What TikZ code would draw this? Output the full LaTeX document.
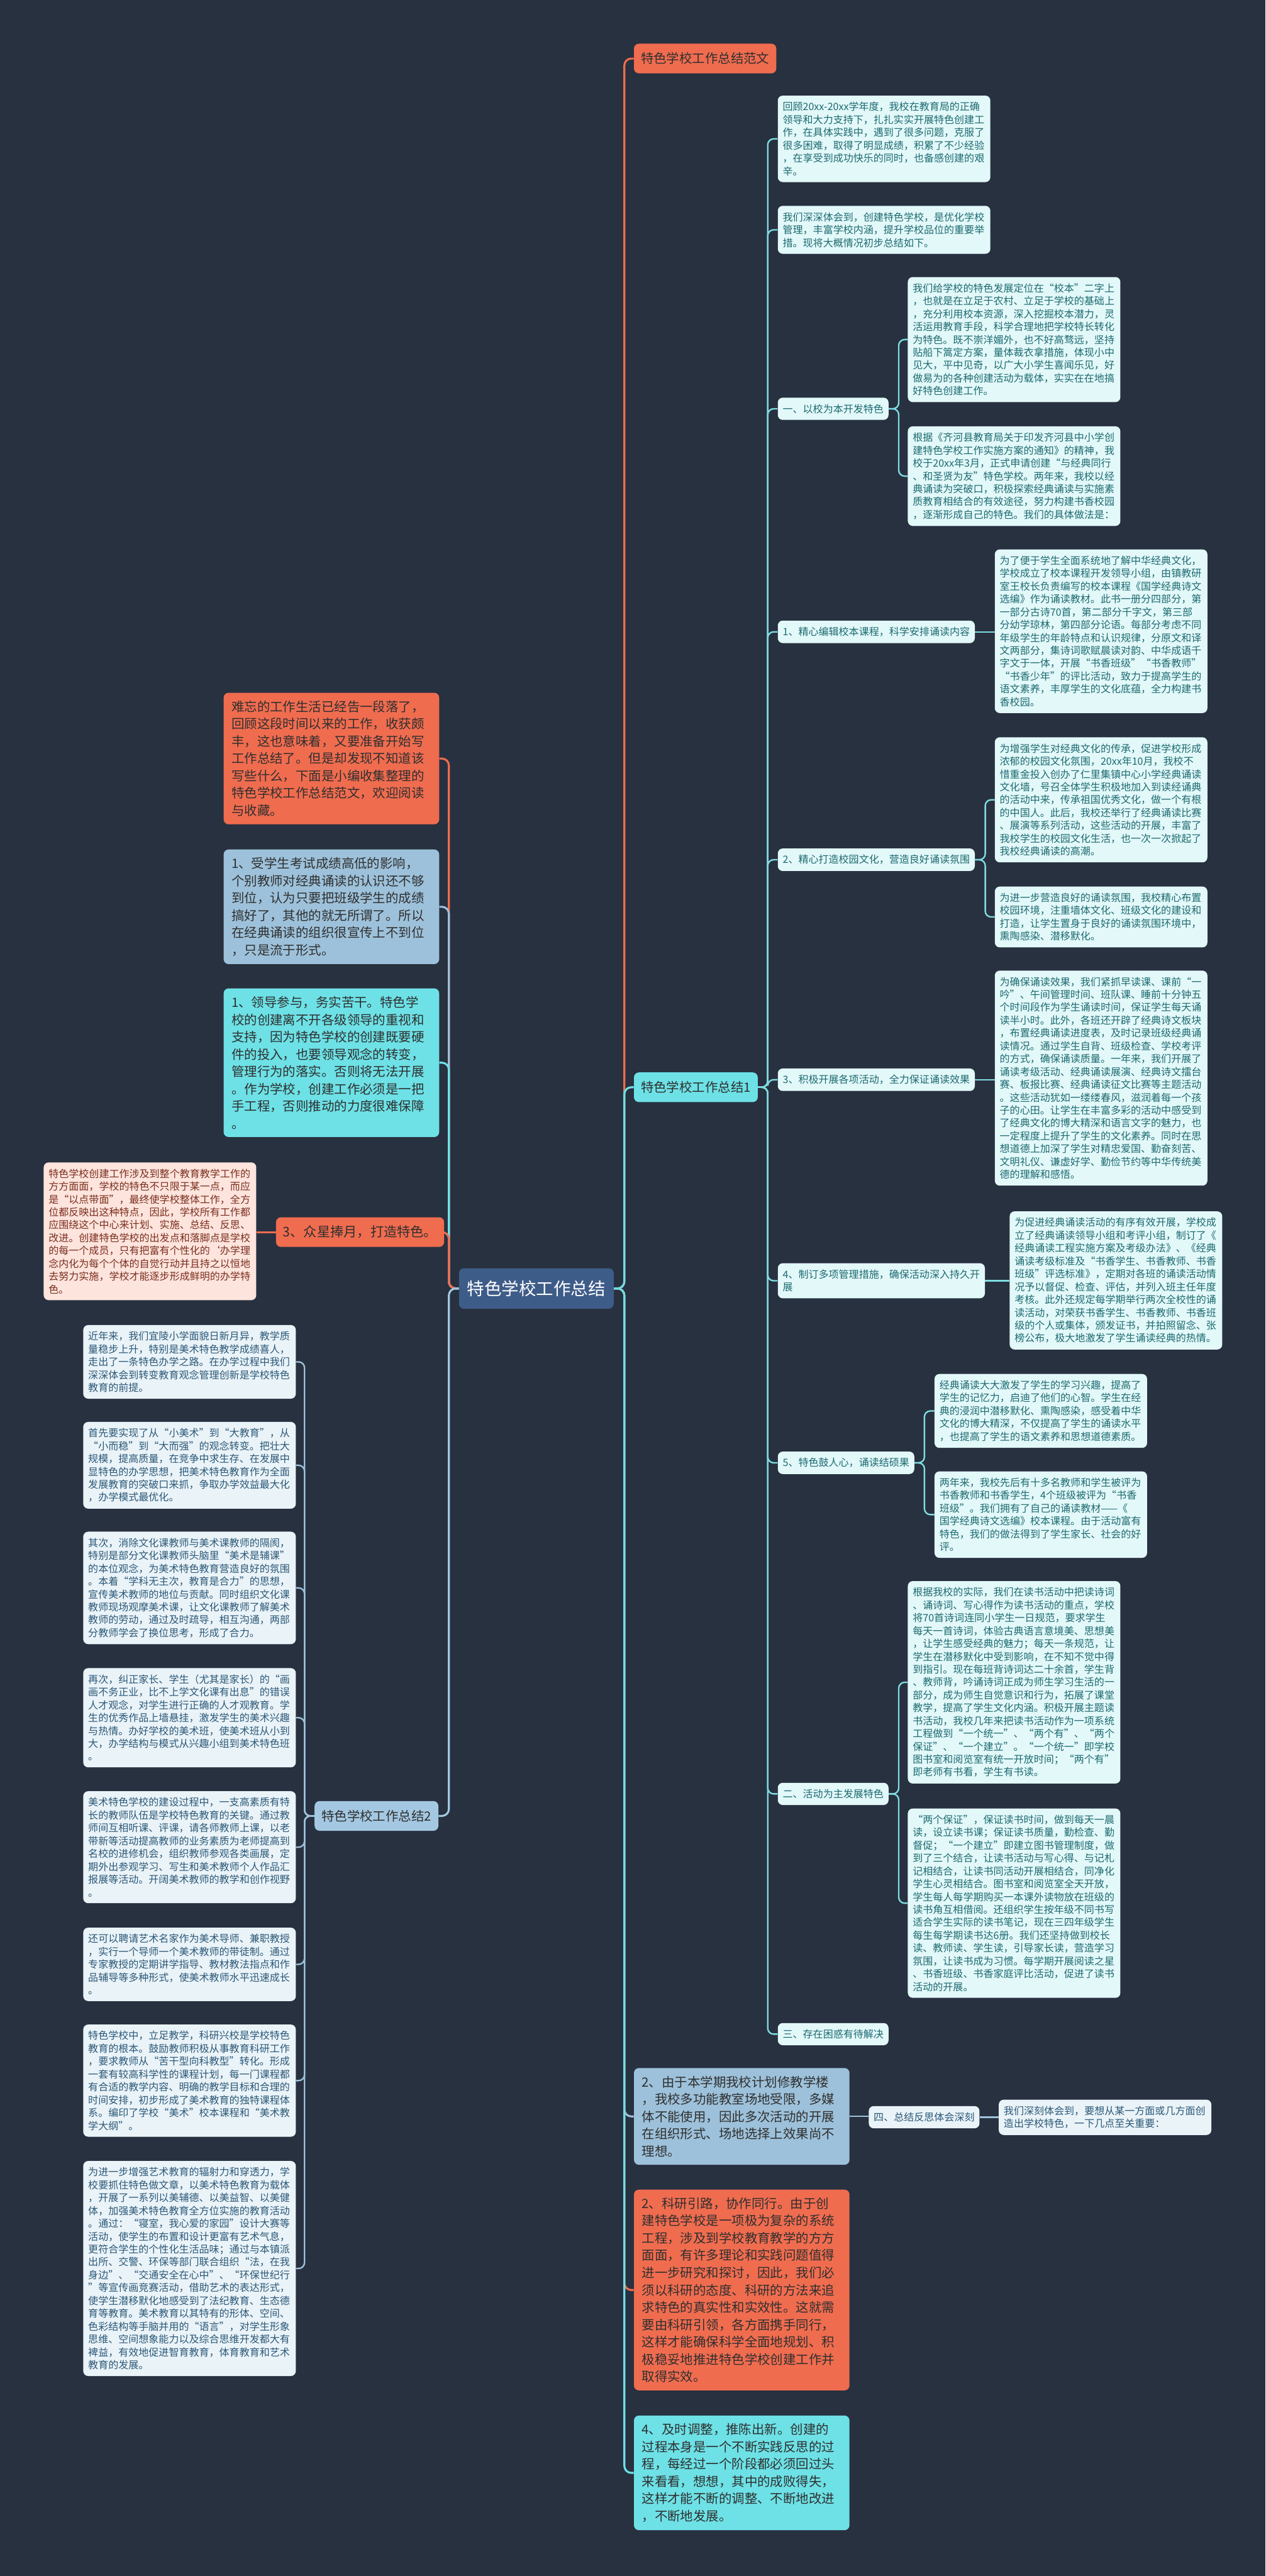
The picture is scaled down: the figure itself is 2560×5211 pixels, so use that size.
\documentclass[tikz,border=0pt]{standalone}
\usepackage{fontspec}
\setmainfont{Noto Sans CJK SC}
\usetikzlibrary{calc}

\definecolor{bgcol}{HTML}{283140}
\definecolor{orangec}{HTML}{F06C4F}
\definecolor{cyanc}{HTML}{6DE1E6}
\definecolor{greyblue}{HTML}{9DC1DA}
\definecolor{rootfill}{HTML}{3E5C88}
\definecolor{leaffill}{HTML}{E3F8F9}
\definecolor{leaftext}{HTML}{1C6A70}
\definecolor{artfill}{HTML}{EAF3F8}
\definecolor{arttext}{HTML}{2B5877}
\definecolor{pinkfill}{HTML}{FDE4DD}
\definecolor{pinktext}{HTML}{7A2E1E}
\definecolor{sumfill}{HTML}{A4C8E2}
\definecolor{darktext}{HTML}{2F2F2F}
\definecolor{leaflink}{HTML}{7FDDE2}
\definecolor{artlink}{HTML}{9DC1DA}

\begin{document}
\begin{tikzpicture}[x=0.5pt,y=-0.5pt,
    base/.style={anchor=north west,rounded corners=5pt,align=left},
    leaf/.style={base,fill=leaffill,text=leaftext,inner xsep=5pt,inner ysep=6.5pt,font=\fontsize{10.2}{13}\selectfont},
    leafbox/.style={leaf,text width=205pt},
    artbox/.style={leafbox,fill=artfill,text=arttext},
    pinkbox/.style={leafbox,fill=pinkfill,text=pinktext},
    bigbox/.style={base,inner xsep=8pt,inner ysep=8pt,text width=202pt,text=darktext,font=\fontsize{13}{17.5}\selectfont},
    topic/.style={base,inner xsep=7pt,minimum height=30pt,text=darktext,font=\fontsize{13}{15}\selectfont},
    rootbox/.style={base,fill=rootfill,text=white,minimum width=156.5pt,minimum height=41pt,align=center,font=\fontsize{17.5}{20}\selectfont},
    mainlink/.style={line width=2pt,rounded corners=7pt},
    sublink/.style={line width=1.5pt,rounded corners=6pt}]

  %%%% canvas %%%%
  \useasboundingbox (0,0) rectangle (2560,5211);
  \fill[bgcol] (0,0) rectangle (2560,5211);

  %% spine coordinates
  \coordinate (rsp) at (1263,0);
  \coordinate (lsp) at (908,0);
  \coordinate (sp1) at (1553,0);
  \coordinate (sp2) at (616,0);
  \coordinate (sp3) at (1818,0);
  \coordinate (sp4) at (1993,0);
  \coordinate (sp5) at (1870,0);

  %% root
  \node[rootbox] (root) at (928,2565) {特色学校工作总结};

  %%%% right side, first level %%%%
  \node[topic,fill=orangec] (r1) at (1282,88) {特色学校工作总结范文};
  \node[topic,fill=cyanc] (s1) at (1282,2169) {特色学校工作总结1};
  \node[bigbox,fill=greyblue] (r3) at (1282,4183) {2、由于本学期我校计划修教学楼\\，我校多功能教室场地受限，多媒\\体不能使用，因此多次活动的开展\\在组织形式、场地选择上效果尚不\\理想。};
  \node[bigbox,fill=orangec] (r4) at (1282,4429) {2、科研引路，协作同行。由于创\\建特色学校是一项极为复杂的系统\\工程，涉及到学校教育教学的方方\\面面，有许多理论和实践问题值得\\进一步研究和探讨，因此，我们必\\须以科研的态度、科研的方法来追\\求特色的真实性和实效性。这就需\\要由科研引领，各方面携手同行，\\这样才能确保科学全面地规划、积\\极稳妥地推进特色学校创建工作并\\取得实效。};
  \node[bigbox,fill=cyanc] (r5) at (1282,4886) {4、及时调整，推陈出新。创建的\\过程本身是一个不断实践反思的过\\程，每经过一个阶段都必须回过头\\来看看，想想，其中的成败得失，\\这样才能不断的调整、不断地改进\\，不断地发展。};

  %%%% left side, first level %%%%
  \node[bigbox,fill=orangec] (l1) at (452,1401) {难忘的工作生活已经告一段落了，\\回顾这段时间以来的工作，收获颇\\丰，这也意味着，又要准备开始写\\工作总结了。但是却发现不知道该\\写些什么，下面是小编收集整理的\\特色学校工作总结范文，欢迎阅读\\与收藏。};
  \node[bigbox,fill=greyblue] (l2) at (452,1718) {1、受学生考试成绩高低的影响，\\个别教师对经典诵读的认识还不够\\到位，认为只要把班级学生的成绩\\搞好了，其他的就无所谓了。所以\\在经典诵读的组织很宣传上不到位\\，只是流于形式。};
  \node[bigbox,fill=cyanc] (l3) at (452,1999) {1、领导参与，务实苦干。特色学\\校的创建离不开各级领导的重视和\\支持，因为特色学校的创建既要硬\\件的投入，也要领导观念的转变，\\管理行为的落实。否则将无法开展\\。作为学校，创建工作必须是一把\\手工程，否则推动的力度很难保障\\。};
  \node[topic,fill=orangec,minimum width=165pt,font=\fontsize{13.5}{15}\selectfont] (l4) at (558,2462) {3、众星捧月，打造特色。};
  \node[pinkbox] (pink) at (88,2351) {特色学校创建工作涉及到整个教育教学工作的\\方方面面，学校的特色不只限于某一点，而应\\是“以点带面”，最终使学校整体工作，全方\\位都反映出这种特点，因此，学校所有工作都\\应围绕这个中心来计划、实施、总结、反思、\\改进。创建特色学校的出发点和落脚点是学校\\的每一个成员，只有把富有个性化的\symbol{96}办学理\\念内化为每个个体的自觉行动并且持之以恒地\\去努力实施，学校才能逐步形成鲜明的办学特\\色。};
  \node[topic,fill=sumfill] (s2) at (636,3643) {特色学校工作总结2};

  %%%% 特色学校工作总结1 %%%%
  \node[leafbox] (b1) at (1573,193) {回顾20xx-20xx学年度，我校在教育局的正确\\领导和大力支持下，扎扎实实开展特色创建工\\作，在具体实践中，遇到了很多问题，克服了\\很多困难，取得了明显成绩，积累了不少经验\\，在享受到成功快乐的同时，也备感创建的艰\\辛。};
  \node[leafbox] (b2) at (1573,416) {我们深深体会到，创建特色学校，是优化学校\\管理，丰富学校内涵，提升学校品位的重要举\\措。现将大概情况初步总结如下。};
  \node[leaf] (b3) at (1573,804) {一、以校为本开发特色};
  \node[leafbox] (b4) at (1836,560) {我们给学校的特色发展定位在“校本”二字上\\，也就是在立足于农村、立足于学校的基础上\\，充分利用校本资源，深入挖掘校本潜力，灵\\活运用教育手段，科学合理地把学校特长转化\\为特色。既不崇洋媚外，也不好高骛远，坚持\\贴船下篙定方案，量体裁衣拿措施，体现小中\\见大，平中见奇，以广大小学生喜闻乐见，好\\做易为的各种创建活动为载体，实实在在地搞\\好特色创建工作。};
  \node[leafbox] (b5) at (1836,862) {根据《齐河县教育局关于印发齐河县中小学创\\建特色学校工作实施方案的通知》的精神，我\\校于20xx年3月，正式申请创建“与经典同行\\、和圣贤为友”特色学校。两年来，我校以经\\典诵读为突破口，积极探索经典诵读与实施素\\质教育相结合的有效途径，努力构建书香校园\\，逐渐形成自己的特色。我们的具体做法是：};
  \node[leaf] (b6) at (1573,1255) {1、精心编辑校本课程，科学安排诵读内容};
  \node[leafbox] (b7) at (2012,1111) {为了便于学生全面系统地了解中华经典文化，\\学校成立了校本课程开发领导小组，由镇教研\\室王校长负责编写的校本课程《国学经典诗文\\选编》作为诵读教材。此书一册分四部分，第\\一部分古诗70首，第二部分千字文，第三部\\分幼学琼林，第四部分论语。每部分考虑不同\\年级学生的年龄特点和认识规律，分原文和译\\文两部分，集诗词歌赋晨读对韵、中华成语千\\字文于一体，开展“书香班级”“书香教师”\\“书香少年”的评比活动，致力于提高学生的\\语文素养，丰厚学生的文化底蕴，全力构建书\\香校园。};
  \node[leaf] (b8) at (1573,1716) {2、精心打造校园文化，营造良好诵读氛围};
  \node[leafbox] (b9) at (2012,1491) {为增强学生对经典文化的传承，促进学校形成\\浓郁的校园文化氛围，20xx年10月，我校不\\惜重金投入创办了仁里集镇中心小学经典诵读\\文化墙，号召全体学生积极地加入到读经诵典\\的活动中来，传承祖国优秀文化，做一个有根\\的中国人。此后，我校还举行了经典诵读比赛\\、展演等系列活动，这些活动的开展，丰富了\\我校学生的校园文化生活，也一次一次掀起了\\我校经典诵读的高潮。};
  \node[leafbox] (b10) at (2012,1793) {为进一步营造良好的诵读氛围，我校精心布置\\校园环境，注重墙体文化、班级文化的建设和\\打造，让学生置身于良好的诵读氛围环境中，\\熏陶感染、潜移默化。};
  \node[leafbox] (b11) at (2012,1963) {为确保诵读效果，我们紧抓早读课、课前“一\\吟”、午间管理时间、班队课、睡前十分钟五\\个时间段作为学生诵读时间，保证学生每天诵\\读半小时。此外，各班还开辟了经典诗文板块\\，布置经典诵读进度表，及时记录班级经典诵\\读情况。通过学生自背、班级检查、学校考评\\的方式，确保诵读质量。一年来，我们开展了\\诵读考级活动、经典诵读展演、经典诗文擂台\\赛、板报比赛、经典诵读征文比赛等主题活动\\。这些活动犹如一缕缕春风，滋润着每一个孩\\子的心田。让学生在丰富多彩的活动中感受到\\了经典文化的博大精深和语言文字的魅力，也\\一定程度上提升了学生的文化素养。同时在思\\想道德上加深了学生对精忠爱国、勤奋刻苦、\\文明礼仪、谦虚好学、勤俭节约等中华传统美\\德的理解和感悟。};
  \node[leaf] (b12) at (1573,2161) {3、积极开展各项活动，全力保证诵读效果};
  \node[leaf] (b13) at (1573,2555) {4、制订多项管理措施，确保活动深入持久开\\展};
  \node[leafbox] (b14) at (2042,2450) {为促进经典诵读活动的有序有效开展，学校成\\立了经典诵读领导小组和考评小组，制订了《\\经典诵读工程实施方案及考级办法》、《经典\\诵读考级标准及“书香学生、书香教师、书香\\班级”评选标准》，定期对各班的诵读活动情\\况予以督促、检查、评估，并列入班主任年度\\考核。此外还规定每学期举行两次全校性的诵\\读活动，对荣获书香学生、书香教师、书香班\\级的个人或集体，颁发证书，并拍照留念、张\\榜公布，极大地激发了学生诵读经典的热情。};
  \node[leaf] (b15) at (1573,2936) {5、特色鼓人心，诵读结硕果};
  \node[leafbox] (b16) at (1890,2779) {经典诵读大大激发了学生的学习兴趣，提高了\\学生的记忆力，启迪了他们的心智。学生在经\\典的浸润中潜移默化、熏陶感染，感受着中华\\文化的博大精深，不仅提高了学生的诵读水平\\，也提高了学生的语文素养和思想道德素质。};
  \node[leafbox] (b17) at (1890,2976) {两年来，我校先后有十多名教师和学生被评为\\书香教师和书香学生，4个班级被评为“书香\\班级”。我们拥有了自己的诵读教材——《\\国学经典诗文选编》校本课程。由于活动富有\\特色，我们的做法得到了学生家长、社会的好\\评。};
  \node[leafbox] (b18) at (1836,3198) {根据我校的实际，我们在读书活动中把读诗词\\、诵诗词、写心得作为读书活动的重点，学校\\将70首诗词连同小学生一日规范，要求学生\\每天一首诗词，体验古典语言意境美、思想美\\，让学生感受经典的魅力；每天一条规范，让\\学生在潜移默化中受到影响，在不知不觉中得\\到指引。现在每班背诗词达二十余首，学生背\\、教师背，吟诵诗词正成为师生学习生活的一\\部分，成为师生自觉意识和行为，拓展了课堂\\教学，提高了学生文化内涵。积极开展主题读\\书活动，我校几年来把读书活动作为一项系统\\工程做到“一个统一”、“两个有”、“两个\\保证”、“一个建立”。“一个统一”即学校\\图书室和阅览室有统一开放时间；“两个有”\\即老师有书看，学生有书读。};
  \node[leaf] (b19) at (1573,3606) {二、活动为主发展特色};
  \node[leafbox] (b20) at (1836,3658) {“两个保证”，保证读书时间，做到每天一晨\\读，设立读书课；保证读书质量，勤检查、勤\\督促；“一个建立”即建立图书管理制度，做\\到了三个结合，让读书活动与写心得、与记札\\记相结合，让读书同活动开展相结合，同净化\\学生心灵相结合。图书室和阅览室全天开放，\\学生每人每学期购买一本课外读物放在班级的\\读书角互相借阅。还组织学生按年级不同书写\\适合学生实际的读书笔记，现在三四年级学生\\每生每学期读书达6册。我们还坚持做到校长\\读、教师读、学生读，引导家长读，营造学习\\氛围，让读书成为习惯。每学期开展阅读之星\\、书香班级、书香家庭评比活动，促进了读书\\活动的开展。};
  \node[leaf] (b21) at (1573,4092) {三、存在困惑有待解决};

  %% 四、总结反思
  \node[leaf,fill=artfill,text=arttext] (b23) at (1757,4260) {四、总结反思体会深刻};
  \node[artbox] (b24) at (2020,4247) {我们深刻体会到，要想从某一方面或几方面创\\造出学校特色，一下几点至关重要：};

  %%%% 特色学校工作总结2 %%%%
  \node[artbox] (L1) at (168,2680) {近年来，我们宜陵小学面貌日新月异，教学质\\量稳步上升，特别是美术特色教学成绩喜人，\\走出了一条特色办学之路。在办学过程中我们\\深深体会到转变教育观念管理创新是学校特色\\教育的前提。};
  \node[artbox] (L2) at (168,2876) {首先要实现了从“小美术”到“大教育”，从\\“小而稳”到“大而强”的观念转变。把壮大\\规模，提高质量，在竞争中求生存、在发展中\\显特色的办学思想，把美术特色教育作为全面\\发展教育的突破口来抓，争取办学效益最大化\\，办学模式最优化。};
  \node[artbox] (L3) at (168,3098) {其次，消除文化课教师与美术课教师的隔阂，\\特别是部分文化课教师头脑里“美术是辅课”\\的本位观念，为美术特色教育营造良好的氛围\\。本着“学科无主次，教育是合力”的思想，\\宣传美术教师的地位与贡献。同时组织文化课\\教师现场观摩美术课，让文化课教师了解美术\\教师的劳动，通过及时疏导，相互沟通，两部\\分教师学会了换位思考，形成了合力。};
  \node[artbox] (L4) at (168,3374) {再次，纠正家长、学生（尤其是家长）的“画\\画不务正业，比不上学文化课有出息”的错误\\人才观念，对学生进行正确的人才观教育。学\\生的优秀作品上墙悬挂，激发学生的美术兴趣\\与热情。办好学校的美术班，使美术班从小到\\大，办学结构与模式从兴趣小组到美术特色班\\。};
  \node[artbox] (L5) at (168,3623) {美术特色学校的建设过程中，一支高素质有特\\长的教师队伍是学校特色教育的关键。通过教\\师间互相听课、评课，请各师教师上课，以老\\带新等活动提高教师的业务素质为老师提高到\\名校的进修机会，组织教师参观各类画展，定\\期外出参观学习、写生和美术教师个人作品汇\\报展等活动。开阔美术教师的教学和创作视野\\。};
  \node[artbox] (L6) at (168,3899) {还可以聘请艺术名家作为美术导师、兼职教授\\，实行一个导师一个美术教师的带徒制。通过\\专家教授的定期讲学指导、教材教法指点和作\\品辅导等多种形式，使美术教师水平迅速成长\\。};
  \node[artbox] (L7) at (168,4095) {特色学校中，立足教学，科研兴校是学校特色\\教育的根本。鼓励教师积极从事教育科研工作\\，要求教师从“苦干型向科教型”转化。形成\\一套有较高科学性的课程计划，每一门课程都\\有合适的教学内容、明确的教学目标和合理的\\时间安排，初步形成了美术教育的独特课程体\\系。编印了学校“美术”校本课程和“美术教\\学大纲”。};
  \node[artbox] (L8) at (168,4371) {为进一步增强艺术教育的辐射力和穿透力，学\\校要抓住特色做文章，以美术特色教育为载体\\，开展了一系列以美辅德、以美益智、以美健\\体，加强美术特色教育全方位实施的教育活动\\。通过：“寝室，我心爱的家园”设计大赛等\\活动，使学生的布置和设计更富有艺术气息，\\更符合学生的个性化生活品味；通过与本镇派\\出所、交警、环保等部门联合组织“法，在我\\身边”、“交通安全在心中”、“环保世纪行\\”等宣传画竞赛活动，借助艺术的表达形式，\\使学生潜移默化地感受到了法纪教育、生态德\\育等教育。美术教育以其特有的形体、空间、\\色彩结构等手脑并用的“语言”，对学生形象\\思维、空间想象能力以及综合思维开发都大有\\裨益，有效地促进智育教育，体育教育和艺术\\教育的发展。};

  %%%% connectors from the root %%%%
  \draw[mainlink,orangec] (root.east) -- (root.east -| rsp) |- (r1.west);
  \draw[mainlink,cyanc] (root.east) -- (root.east -| rsp) |- (s1.west);
  \draw[mainlink,greyblue] (root.east) -- (root.east -| rsp) |- (r3.west);
  \draw[mainlink,orangec] (root.east) -- (root.east -| rsp) |- (r4.west);
  \draw[mainlink,cyanc] (root.east) -- (root.east -| rsp) |- (r5.west);

  \draw[mainlink,orangec] (root.west) -- (root.west -| lsp) |- (l1.east);
  \draw[mainlink,greyblue] (root.west) -- (root.west -| lsp) |- (l2.east);
  \draw[mainlink,cyanc] (root.west) -- (root.west -| lsp) |- (l3.east);
  \draw[mainlink,orangec] (root.west) -- (root.west -| lsp) |- (l4.east);
  \draw[mainlink,sumfill] (root.west) -- (root.west -| lsp) |- (s2.east);
  \draw[mainlink,orangec] (l4.west) -- (pink.east |- l4.west);

  %%%% connectors inside the subtrees %%%%
  \foreach \n in {b1,b2,b3,b6,b8,b12,b13,b15,b19,b21}{
    \draw[sublink,leaflink] (s1.east) -- (s1.east -| sp1) |- (\n.west);
  }
  \foreach \n in {b4,b5}{
    \draw[sublink,leaflink] (b3.east) -- (b3.east -| sp3) |- (\n.west);
  }
  \foreach \n in {b9,b10}{
    \draw[sublink,leaflink] (b8.east) -- (b8.east -| sp4) |- (\n.west);
  }
  \foreach \n in {b16,b17}{
    \draw[sublink,leaflink] (b15.east) -- (b15.east -| sp5) |- (\n.west);
  }
  \foreach \n in {b18,b20}{
    \draw[sublink,leaflink] (b19.east) -- (b19.east -| sp3) |- (\n.west);
  }
  \draw[sublink,leaflink] (b6.east) -- (b7.west |- b6.east);
  \draw[sublink,leaflink] (b12.east) -- (b11.west |- b12.east);
  \draw[sublink,leaflink] (b13.east) -- (b14.west |- b13.east);

  \draw[sublink,artlink] (r3.east) -- (b23.west |- r3.east);
  \draw[sublink,artlink] (b23.east) -- (b24.west |- b23.east);

  \foreach \n in {1,...,8}{
    \draw[sublink,artlink] (s2.west) -- (s2.west -| sp2) |- (L\n.east);
  }

\end{tikzpicture}
\end{document}
